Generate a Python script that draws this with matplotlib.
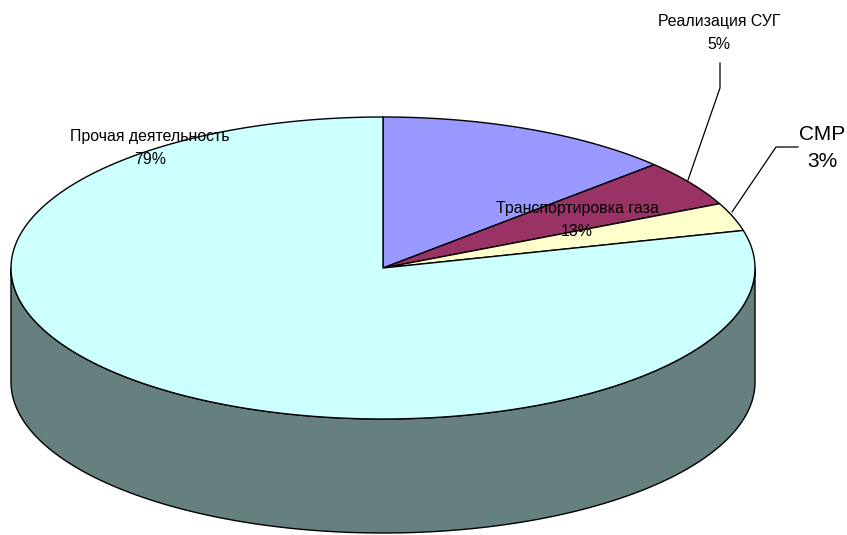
import numpy as np
import matplotlib
matplotlib.use("Agg")
import matplotlib.pyplot as plt
from matplotlib.patches import Polygon

# data
labels = ["Транспортировка газа", "Реализация СУГ", "СМР", "Прочая деятельность"]
shares = [13, 5, 3, 79]
colors = ["#9999ff", "#993366", "#ffffcc", "#ccffff"]
side_color = "#668080"

# geometry of the 3d pie (pixel coords)
cx, cy = 383, 268
rx, ry = 372, 151
depth = 114

plt.rcParams['font.family'] = ['Liberation Sans', 'DejaVu Sans']

fig = plt.figure(figsize=(8.47, 5.35), dpi=100)
ax = fig.add_axes([0, 0, 1, 1])
ax.set_xlim(0, 847)
ax.set_ylim(535, 0)
ax.axis('off')


def rim(t0, t1, dy=0, n=200):
    # angle measured clockwise from 12 o'clock, in degrees
    t = np.radians(np.linspace(t0, t1, n))
    return np.column_stack([cx + rx * np.sin(t), cy - ry * np.cos(t) + dy])


bounds = np.concatenate([[0], np.cumsum(shares)]) / sum(shares) * 360

# side walls (only the front half is visible)
for i in range(len(shares)):
    a, b = max(bounds[i], 90), min(bounds[i + 1], 270)
    if b <= a:
        continue
    top = rim(a, b)
    bot = rim(b, a, depth)
    ax.add_patch(Polygon(np.vstack([top, bot]), closed=True, fc=side_color,
                         ec='black', lw=1.0, joinstyle='round'))

# top faces
for i in range(len(shares)):
    pts = np.vstack([[cx, cy], rim(bounds[i], bounds[i + 1]), [cx, cy]])
    ax.add_patch(Polygon(pts, closed=True, fc=colors[i], ec='black', lw=1.0,
                         joinstyle='round'))

# labels
fs = 11.4
ls = 1.6
ax.text(150, 148, f"{labels[3]}\n{shares[3]}%", ha='center', va='center',
        fontsize=fs, linespacing=ls)
ax.text(577, 220, f"{labels[0]}\n{shares[0]}%", ha='center', va='center',
        fontsize=fs, linespacing=ls)
ax.text(719, 33, f"{labels[1]}\n{shares[1]}%", ha='center', va='center',
        fontsize=fs, linespacing=ls)
ax.text(822, 148, f"{labels[2]}\n{shares[2]}%", ha='center', va='center',
        fontsize=15, linespacing=1.55)

# leader lines
ax.plot([720, 720, 688], [63, 88, 180], color='black', lw=0.9)
ax.plot([798, 776, 732], [147, 147, 212], color='black', lw=0.9)

fig.savefig("out.png", dpi=100)
